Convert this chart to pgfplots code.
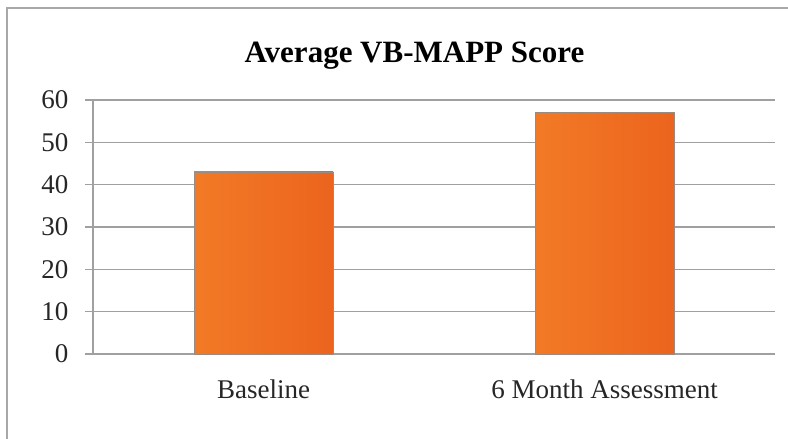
\documentclass[border=0pt]{standalone}
\usepackage{pgfplots}
\pgfplotsset{compat=1.18}
\usepackage{fontspec}
\setmainfont{Liberation Serif}
\definecolor{gridgray}{HTML}{A0A0A0}
\definecolor{framegray}{HTML}{A8A8A8}
\definecolor{barorange}{HTML}{F07220}
\definecolor{barleft}{HTML}{F27A26}
\definecolor{barright}{HTML}{EC641E}
\definecolor{baredge}{HTML}{9A8A80}
\begin{document}
\begin{tikzpicture}[x=1bp,y=1bp]
\useasboundingbox (0,0) rectangle (788,439);
\draw[framegray, line width=1.6bp] (7,-5) -- (7,431) -- (795,431);
\node[font=\fontsize{31bp}{35bp}\selectfont\bfseries] at (414.5,383) {Average VB-MAPP Score};
\begin{axis}[
  at={(93bp,85bp)}, anchor=south west,
  scale only axis, width=682bp, height=254bp,
  xmin=-0.5, xmax=1.5, ymin=0, ymax=60,
  ytick={0,10,...,60},
  xtick={0,1}, xticklabels={Baseline, 6 Month Assessment},
  axis x line*=bottom, axis y line*=left,
  axis line style={gridgray, line width=1.4bp},
  ymajorgrids, grid style={gridgray, line width=1.4bp},
  tick align=outside,
  x tick style={draw=none},
  y tick style={gridgray, line width=1.4bp},
  major tick length=8bp,
  extra x ticks={-0.5,0.5,1.5}, extra x tick labels={},
  extra x tick style={grid=none, major tick length=8bp, tick style={gridgray, line width=1.4bp}},
  /pgf/number format/assume math mode=true,
  tick label style={font=\fontsize{27bp}{31bp}\selectfont, text=black!85},
  yticklabel style={xshift=-13bp},
  xticklabel style={yshift=-14bp},
  ybar, bar width=139bp, bar shift=0pt,
  clip=false,
]
\addplot[shading=axis, left color=barleft, middle color=barorange, right color=barright, draw=baredge, line width=0.8bp] coordinates {(0,43)};
\addplot[shading=axis, left color=barleft, middle color=barorange, right color=barright, draw=baredge, line width=0.8bp] coordinates {(1,57)};
\end{axis}
\end{tikzpicture}
\end{document}
